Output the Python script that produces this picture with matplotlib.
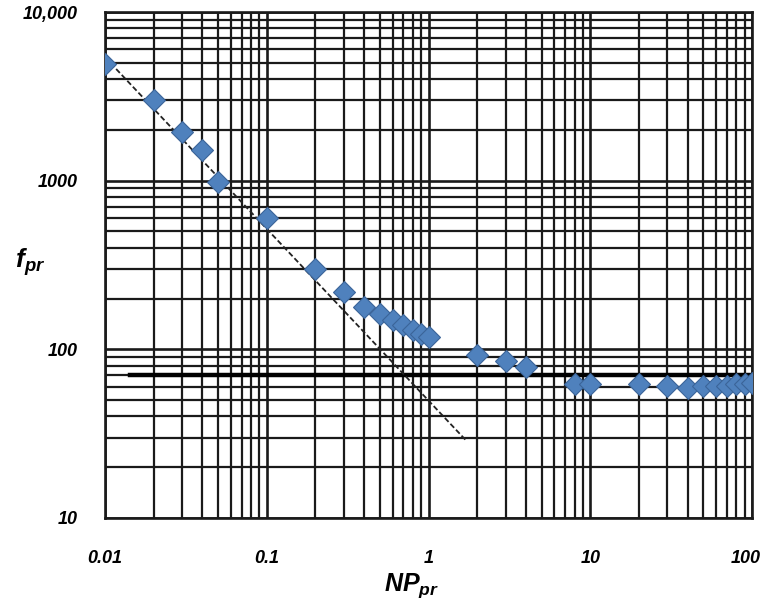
import numpy as np
import matplotlib
matplotlib.use("Agg")
import matplotlib.pyplot as plt
from matplotlib.transforms import ScaledTranslation

# data
np_pr = [0.01, 0.02, 0.03, 0.04, 0.05, 0.1, 0.2, 0.3, 0.4, 0.5, 0.6, 0.7, 0.8, 0.9, 1.0,
         2, 3, 4, 8, 10, 20, 30, 40, 50, 60, 70, 80, 90, 100]
f_pr = [4900, 3000, 1950, 1520, 980, 600, 300, 218, 178, 163, 150, 140, 130, 123, 118,
        93, 85, 79, 62, 62, 62, 61, 59, 61, 61, 61, 62, 62, 63]

fit_x = [0.01, 1.72]
fit_y = [5400, 28.6]

flat_x = [0.0143, 100]
flat_y = [70, 70]

x_ticks = [0.01, 0.1, 1, 10, 100]
x_labels = ["0.01", "0.1", "1", "10", "100"]
y_ticks = [10, 100, 1000, 10000]
y_labels = ["10", "100", "1000", "10,000"]

plt.rcParams["font.family"] = ["Liberation Sans", "DejaVu Sans"]
plt.rcParams["mathtext.fontset"] = "custom"
plt.rcParams["mathtext.bf"] = "Liberation Sans:bold:italic"
plt.rcParams["mathtext.rm"] = "Liberation Sans:bold:italic"

fig = plt.figure(figsize=(7.62, 6.04), dpi=100)
ax = fig.add_axes([0.1378, 0.1424, 0.8491, 0.8377])
ax.set_xscale("log")
ax.set_yscale("log")
ax.set_xlim(0.01, 100)
ax.set_ylim(10, 10000)

# dense graph-paper grid
ax.grid(True, which="major", color="#1a1a1a", lw=1.9)
ax.grid(True, which="minor", color="#1a1a1a", lw=1.6)
ax.set_axisbelow(True)
for s in ax.spines.values():
    s.set_color("#1a1a1a")
    s.set_linewidth(1.9)

ax.plot(flat_x, flat_y, color="black", lw=3.2, zorder=3)
ax.plot(fit_x, fit_y, color="#222222", lw=1.3, ls=(0, (3, 1.5)), zorder=3)
ax.plot(np_pr, f_pr, ls="none", marker="D", ms=11, mfc="#4F81BD",
        mec="#3B6499", mew=0.8, zorder=4)

ax.tick_params(which="both", length=0)
ax.xaxis.set_minor_locator(matplotlib.ticker.LogLocator(subs=np.arange(2, 10)))
ax.yaxis.set_minor_locator(matplotlib.ticker.LogLocator(subs=np.arange(2, 10)))
ax.xaxis.set_minor_formatter(matplotlib.ticker.NullFormatter())
ax.yaxis.set_minor_formatter(matplotlib.ticker.NullFormatter())
ax.set_xticks(x_ticks)
ax.set_xticklabels(x_labels, fontsize=13, fontweight="bold", fontstyle="italic")
ax.set_yticks(y_ticks)
ax.set_yticklabels(y_labels, fontsize=13, fontweight="bold", fontstyle="italic")
ax.tick_params(axis="x", which="major", pad=23)
ax.tick_params(axis="y", which="major", pad=20)
last = ax.get_xticklabels()[-1]
last.set_ha("right")
last.set_transform(last.get_transform() + ScaledTranslation(0.09, 0, fig.dpi_scale_trans))

fig.text(0.04, 0.566, r"$\mathbf{f_{pr}}$", fontsize=19, ha="center", va="center")
fig.text(0.54, 0.03, r"$\mathbf{NP_{pr}}$", fontsize=18, ha="center", va="center")

fig.savefig("out.png", dpi=100)
